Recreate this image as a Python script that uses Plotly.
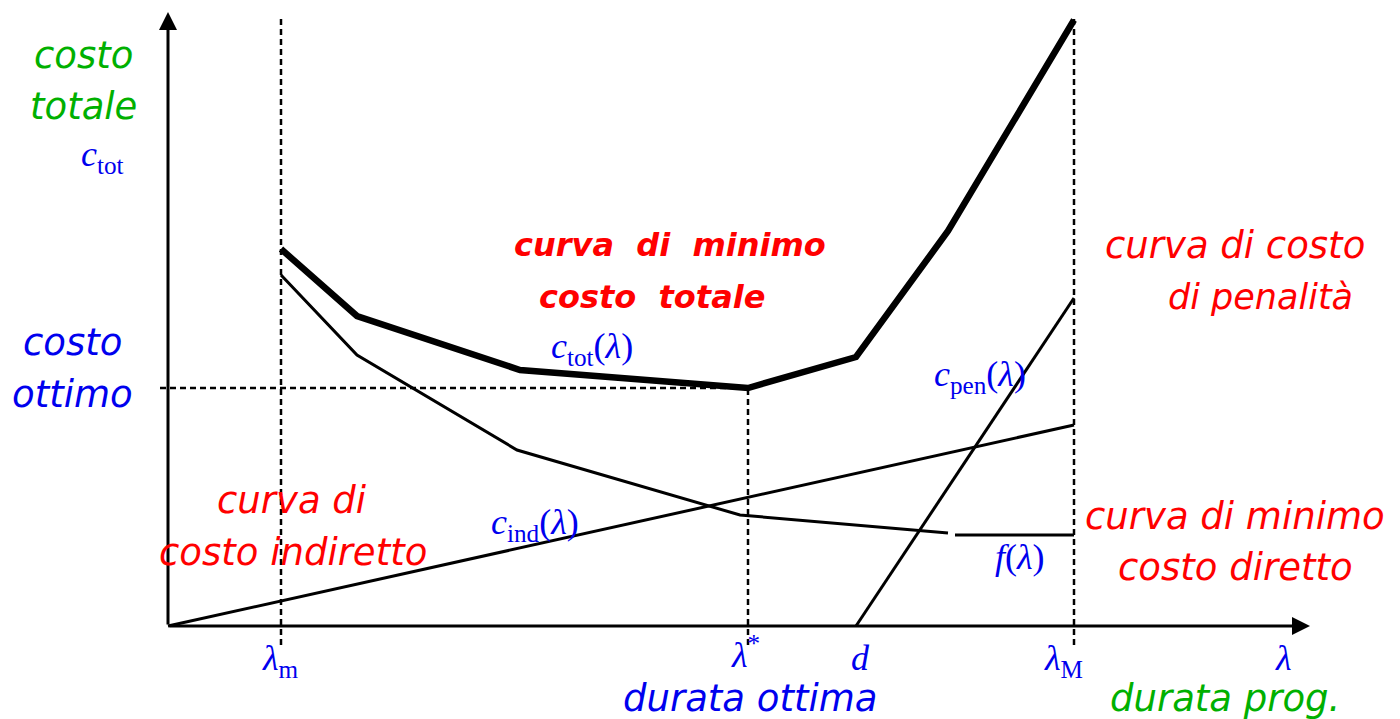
import plotly.graph_objects as go

# ---- data (chart units: origin at axes corner) ----
lam_m, lam_star, d_due, lam_M = 113, 580, 688, 906
c_opt = 238
ctot_x = [113, 189, 352, 580, 688, 780, 906]
ctot_y = [377, 310, 256, 238, 269, 395, 606]
f_x1 = [113, 189, 349, 572, 780]
f_y1 = [351, 271, 176, 111, 93]
f_x2 = [787, 906]
f_y2 = [91, 91]
cind_x = [0, 906]
cind_y = [0, 201]
cpen_x = [688, 906]
cpen_y = [0, 328]
x_axis_end = 1142
y_axis_end = 614

fig = go.Figure()
blk = "black"
DASH = "6px,4px"
def line(x, y, w, dash=None):
    fig.add_trace(go.Scatter(x=x, y=y, mode="lines",
                             line=dict(color=blk, width=w, dash=dash),
                             hoverinfo="skip", showlegend=False))

# dashed guides
line([-8, lam_star], [c_opt, c_opt], 2.5, DASH)
line([lam_m, lam_m], [-19, 611], 2.5, DASH)
line([lam_star, lam_star], [-19, c_opt], 2.5, DASH)
line([lam_M, lam_M], [-19, 611], 2.5, DASH)
# curves
line(cind_x, cind_y, 3)
line(cpen_x, cpen_y, 3)
line(f_x1, f_y1, 3)
line(f_x2, f_y2, 3)
line(ctot_x, ctot_y, 6.5)

ann = []
# axes arrows
ann.append(dict(x=x_axis_end, y=0, ax=0, ay=0, xref="x", yref="y", axref="x", ayref="y",
                showarrow=True, arrowhead=2, arrowsize=1.2, arrowwidth=3, arrowcolor=blk, text=""))
ann.append(dict(x=0, y=y_axis_end, ax=0, ay=0, xref="x", yref="y", axref="x", ayref="y",
                showarrow=True, arrowhead=2, arrowsize=1.2, arrowwidth=3, arrowcolor=blk, text=""))

COMIC = "DejaVu Sans"
SERIF = "Liberation Serif"
GREEN = "#00B000"
BLUE = "#0000EE"
RED = "#FF0000"

def txt(px, py, s, color, size, family=COMIC, xanchor="center"):
    ann.append(dict(x=px - 168, y=626 - py, xref="x", yref="y", text=s, showarrow=False,
                    font=dict(family=family, size=size, color=color), xanchor=xanchor, yanchor="middle"))

def sub(s):
    return "<sub>%s</sub>" % s

S = 37
txt(83, 55, "<i>costo</i>", GREEN, S)
txt(83, 106, "<i>totale</i>", GREEN, S)
txt(102, 156, "<i>c</i>" + sub("tot"), BLUE, 36, SERIF)
txt(72, 342, "<i>costo</i>", BLUE, S)
txt(72, 394, "<i>ottimo</i>", BLUE, S)
txt(670, 245, "<b><i>curva  di  minimo</i></b>", RED, 32)
txt(652, 297, "<b><i>costo  totale</i></b>", RED, 32)
txt(592, 348, "<i>c</i>" + sub("tot") + "(<i>λ</i>)", BLUE, 36, SERIF)
txt(1235, 245, "<i>curva di costo</i>", RED, S)
txt(1260, 297, "<i>di penalità</i>", RED, 35)
txt(980, 376, "<i>c</i>" + sub("pen") + "(<i>λ</i>)", BLUE, 36, SERIF)
txt(292, 500, "<i>curva di</i>", RED, S)
txt(293, 552, "<i>costo indiretto</i>", RED, S)
txt(535, 524, "<i>c</i>" + sub("ind") + "(<i>λ</i>)", BLUE, 36, SERIF)
txt(1235, 516, "<i>curva di minimo</i>", RED, S)
txt(1235, 567, "<i>costo diretto</i>", RED, S)
txt(1020, 557, "<i>f</i>(<i>λ</i>)", BLUE, 36, SERIF)
txt(280, 660, "<i>λ</i>" + sub("m"), BLUE, 36, SERIF)
txt(745, 652, "<i>λ</i><sup>*</sup>", BLUE, 36, SERIF)
txt(860, 658, "<i>d</i>", BLUE, 36, SERIF)
txt(1063, 660, "<i>λ</i>" + sub("M"), BLUE, 36, SERIF)
txt(1283, 658, "<i>λ</i>", BLUE, 36, SERIF)
txt(750, 698, "<i>durata ottima</i>", BLUE, S)
txt(1225, 698, "<i>durata prog.</i>", GREEN, S)

fig.update_layout(
    width=1400, height=719,
    margin=dict(l=0, r=0, t=0, b=0),
    paper_bgcolor="white", plot_bgcolor="white",
    xaxis=dict(range=[-168, 1232], visible=False, fixedrange=True),
    yaxis=dict(range=[-93, 626], visible=False, fixedrange=True),
    annotations=ann,
    showlegend=False,
)
fig.write_html("out.html", post_script="document.body.style.margin='0';document.body.style.overflow='hidden';",
               config={"displayModeBar": False})
